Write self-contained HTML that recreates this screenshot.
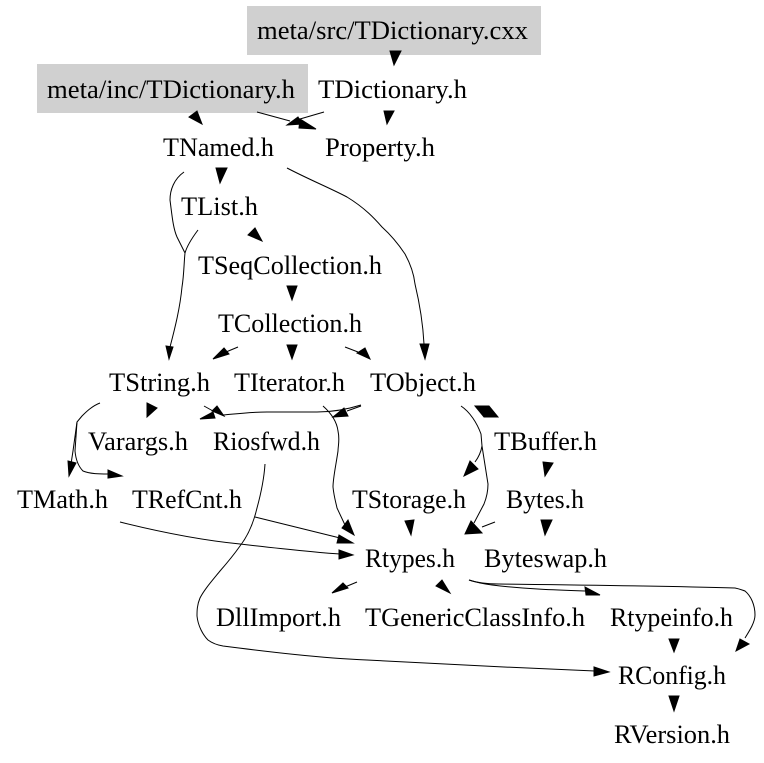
<!DOCTYPE html>
<html><head><meta charset="utf-8"><style>
html,body{margin:0;padding:0;background:#fff}
svg{display:block}
text{font-family:"Liberation Serif",serif;font-size:26.5px;fill:#000}
path{fill:none;stroke:#000;stroke-width:1}
polygon{fill:#000;stroke:#000;stroke-width:1;stroke-linejoin:miter}
</style></head><body>
<svg width="764" height="763" viewBox="0 0 764 763" xmlns="http://www.w3.org/2000/svg">
<rect x="247" y="6" width="294" height="49" fill="#d0d0d0"/>
<rect x="37" y="64" width="271" height="49" fill="#d0d0d0"/>
<text x="257" y="39" textLength="271" lengthAdjust="spacingAndGlyphs">meta/src/TDictionary.cxx</text>
<text x="47" y="98" textLength="248" lengthAdjust="spacingAndGlyphs">meta/inc/TDictionary.h</text>
<text x="318" y="98" textLength="149" lengthAdjust="spacingAndGlyphs">TDictionary.h</text>
<text x="163" y="156" textLength="111" lengthAdjust="spacingAndGlyphs">TNamed.h</text>
<text x="325" y="156" textLength="110" lengthAdjust="spacingAndGlyphs">Property.h</text>
<text x="181" y="215" textLength="77" lengthAdjust="spacingAndGlyphs">TList.h</text>
<text x="198" y="274" textLength="184" lengthAdjust="spacingAndGlyphs">TSeqCollection.h</text>
<text x="218" y="332" textLength="144" lengthAdjust="spacingAndGlyphs">TCollection.h</text>
<text x="109" y="391" textLength="101" lengthAdjust="spacingAndGlyphs">TString.h</text>
<text x="234" y="391" textLength="111" lengthAdjust="spacingAndGlyphs">TIterator.h</text>
<text x="370" y="391" textLength="106" lengthAdjust="spacingAndGlyphs">TObject.h</text>
<text x="88" y="450" textLength="100" lengthAdjust="spacingAndGlyphs">Varargs.h</text>
<text x="213" y="450" textLength="107" lengthAdjust="spacingAndGlyphs">Riosfwd.h</text>
<text x="494" y="450" textLength="103" lengthAdjust="spacingAndGlyphs">TBuffer.h</text>
<text x="17" y="508" textLength="91" lengthAdjust="spacingAndGlyphs">TMath.h</text>
<text x="132" y="508" textLength="110" lengthAdjust="spacingAndGlyphs">TRefCnt.h</text>
<text x="352" y="508" textLength="114" lengthAdjust="spacingAndGlyphs">TStorage.h</text>
<text x="506" y="508" textLength="78" lengthAdjust="spacingAndGlyphs">Bytes.h</text>
<text x="365" y="567" textLength="90" lengthAdjust="spacingAndGlyphs">Rtypes.h</text>
<text x="484" y="567" textLength="123" lengthAdjust="spacingAndGlyphs">Byteswap.h</text>
<text x="216" y="626" textLength="125" lengthAdjust="spacingAndGlyphs">DllImport.h</text>
<text x="365" y="626" textLength="220" lengthAdjust="spacingAndGlyphs">TGenericClassInfo.h</text>
<text x="610" y="626" textLength="123" lengthAdjust="spacingAndGlyphs">Rtypeinfo.h</text>
<text x="618" y="684" textLength="108" lengthAdjust="spacingAndGlyphs">RConfig.h</text>
<text x="614" y="743" textLength="116" lengthAdjust="spacingAndGlyphs">RVersion.h</text>

<!-- top edges -->
<polygon points="390,51 401,51 394,65"/>
<polygon points="384,111 394,111 387,124"/>
<path d="M324,112 L300,119"/>
<polygon points="298,117 302,124 287,125"/>
<path d="M257,112 L290,121"/>
<polygon points="300,119 299,128 316,129"/>
<polygon points="189,117 197,111 202,124"/>
<polygon points="216,168 227,168 220,183"/>
<path d="M184,172 C174,179 170,190 170,200 C172,215 173,228 177,237 L185,253"/>
<path d="M198,230 C192,238 187,246 185,253 C184,262 184,275 182,287 C180,308 175,328 170,347"/>
<polygon points="166,346 173,347 169,359"/>
<path d="M287,168 C310,180 330,188 347,197 C365,208 375,219 382,227 C392,236 399,245 405,254 C411,265 414,275 415,284 C420,305 423,325 424,344"/>
<polygon points="420,344 429,344 425,359"/>
<polygon points="248,235 255,228 262,241"/>
<polygon points="287,286 297,286 292,300"/>

<!-- TCollection -->
<path d="M238,347 L226,352"/>
<polygon points="224,348 229,354 213,359"/>
<polygon points="287,345 297,345 292,359"/>
<path d="M345,347 L358,352"/>
<polygon points="357,353 365,348 370,359"/>

<!-- TString -->
<polygon points="147,403 157,408 147,417"/>
<path d="M204,406 L213,411"/>
<polygon points="212,411 217,406 224,416"/>
<path d="M100,403 C92,406 86,412 82,416 L77,422 L73,451 L71,464"/>
<polygon points="68,461 76,463 69,476"/>
<path d="M77,422 L75,451 C76,462 80,468 83,471 C90,474 100,474 108,474"/>
<polygon points="108,470 108,478 122,476"/>

<!-- TObject -->
<path d="M361,405 C345,410 330,412 317,412 L267,412 C250,412 235,414 223,415"/>
<polygon points="213,412 215,418 200,419"/>
<path d="M361,406 L347,411"/>
<polygon points="344,408 348,416 333,417"/>
<path d="M323,406 C332,414 337,423 338,431 C340,440 338,446 338,451 C336,465 333,478 333,487 C334,497 336,503 337,508 L345,525"/>
<polygon points="342,528 348,520 354,535"/>
<path d="M461,406 C470,412 477,423 481,434 L482,446 C481,452 478,458 475,462"/>
<polygon points="470,461 478,469 464,476"/>
<path d="M482,446 L488,484 C488,492 486,499 484,504 L474,523"/>
<polygon points="471,521 482,533 465,534"/>
<path d="M495,522 L482,527"/>
<polygon points="475,406 489,406 498,417 484,417"/>
<polygon points="543,462 553,463 545,476"/>
<polygon points="541,520 552,520 545,535"/>
<polygon points="405,521 414,520 411,535"/>

<!-- Riosfwd to RConfig -->
<path d="M265,464 C264,480 260,497 257,508 C253,525 247,537 240,546 C233,556 227,563 220,571 C211,582 204,590 200,598 C197,605 197,611 197,616 C198,626 203,635 208,640 C212,643 217,645 223,646 C270,652 320,658 367,660 C440,664 520,668 595,671"/>
<polygon points="594,667 594,676 609,672"/>

<!-- to Rtypes -->
<path d="M255,517 L340,538"/>
<polygon points="339,535 337,543 353,543"/>
<path d="M120,522 C160,532 200,540 240,544 C275,548 310,552 340,554"/>
<polygon points="339,550 339,559 353,555"/>

<!-- from Rtypes -->
<path d="M357,582 L345,587"/>
<polygon points="343,583 348,588 332,593"/>
<polygon points="436,586 442,580 450,593"/>
<path d="M469,580 C478,583 485,584 492,585 C525,589 555,590 585,591"/>
<polygon points="585,587 586,595 600,595"/>
<path d="M469,580 C478,583 488,584 499,584 C580,585 670,586 735,588 C740,589 742,590 745,591 C751,596 755,605 755,615 C755,622 750,630 745,638"/>
<polygon points="740,639 749,644 736,651"/>
<polygon points="669,639 679,639 674,652"/>
<polygon points="669,696 679,696 674,711"/>
</svg>
</body></html>
